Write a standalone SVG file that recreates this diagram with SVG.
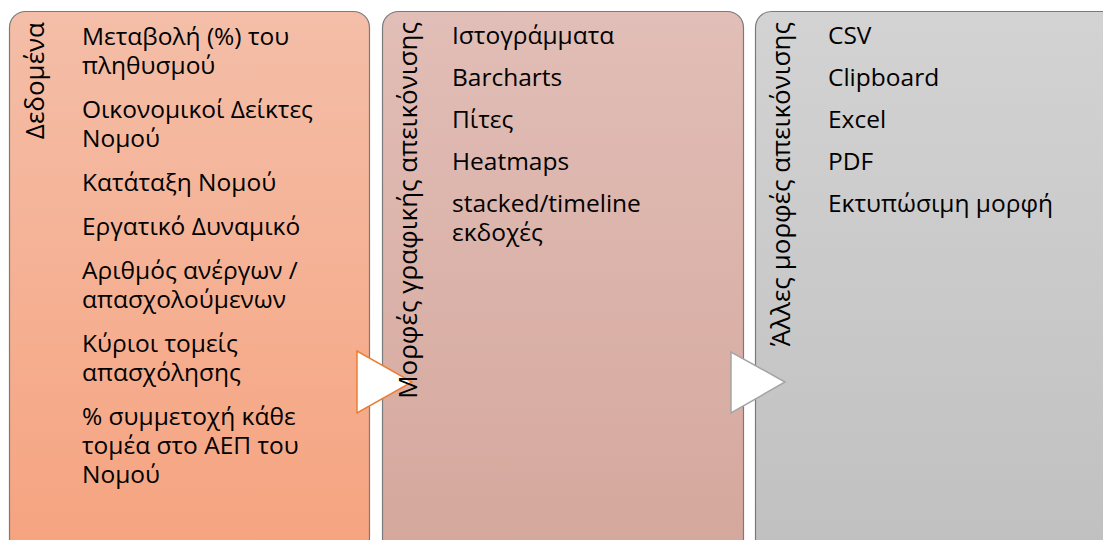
<svg xmlns="http://www.w3.org/2000/svg" width="1103" height="540" viewBox="0 0 1103 540">
  <defs>
    <linearGradient id="gradData" x1="0" y1="0" x2="0" y2="1">
      <stop offset="0" stop-color="#F4BEA8"/>
      <stop offset="1" stop-color="#F6A37F"/>
    </linearGradient>
    <linearGradient id="gradCharts" x1="0" y1="0" x2="0" y2="1">
      <stop offset="0" stop-color="#E1BEB7"/>
      <stop offset="1" stop-color="#D5A79C"/>
    </linearGradient>
    <linearGradient id="gradExport" x1="0" y1="0" x2="0" y2="1">
      <stop offset="0" stop-color="#D3D3D3"/>
      <stop offset="1" stop-color="#C0C0C0"/>
    </linearGradient>
    <style>
      .panel { stroke: #7a7a7a; stroke-width: 1.2; }
      .txt { font-family: "Open Sans", "Noto Sans", sans-serif; font-size: 24.5px; fill: #000; }
      .title { text-anchor: end; font-size: 26px; }
      .arrow { fill: #FFFFFF; stroke-width: 1.5; stroke-linejoin: miter; }
    </style>
  </defs>

  <rect width="1103" height="540" fill="#FFFFFF"/>

  <!-- panel shapes -->
  <g id="node-data">
    <rect class="panel" x="9.5" y="11.5" width="360" height="545" rx="16" fill="url(#gradData)"/>
  </g>
  <g id="node-charts">
    <rect class="panel" x="382.5" y="11.5" width="361" height="545" rx="16" fill="url(#gradCharts)"/>
  </g>
  <g id="node-export">
    <rect class="panel" x="755.5" y="11.5" width="380" height="545" rx="16" fill="url(#gradExport)"/>
  </g>

  <!-- process arrows between the panels -->
  <g id="connectors">
    <polygon class="arrow" points="357,351 357,413 412,382" stroke="#ED7D31"/>
    <polygon class="arrow" points="731,352 731,413 785,382" stroke="#A5A5A5"/>
  </g>

  <!-- panel labels; wrapped items are one text with a tspan per line -->
  <g id="node-data-text" class="txt">
    <text class="title" transform="translate(44,22) rotate(-90)">Δεδομένα</text>
    <text x="82" y="45">Μεταβολή (%) του<tspan x="82" dy="29">πληθυσμού</tspan></text>
    <text x="82" y="118">Οικονομικοί Δείκτες<tspan x="82" dy="29">Νομού</tspan></text>
    <text x="82" y="191">Κατάταξη Νομού</text>
    <text x="82" y="235">Εργατικό Δυναμικό</text>
    <text x="82" y="279">Αριθμός ανέργων /<tspan x="82" dy="29">απασχολούμενων</tspan></text>
    <text x="82" y="352">Κύριοι τομείς<tspan x="82" dy="29">απασχόλησης</tspan></text>
    <text x="82" y="425">% συμμετοχή κάθε<tspan x="82" dy="29">τομέα στο ΑΕΠ του</tspan><tspan x="82" dy="29">Νομού</tspan></text>
  </g>
  <g id="node-charts-text" class="txt">
    <text class="title" transform="translate(417,22) rotate(-90)">Μορφές γραφικής απεικόνισης</text>
    <text x="452" y="44">Ιστογράμματα</text>
    <text x="452" y="86">Barcharts</text>
    <text x="452" y="128">Πίτες</text>
    <text x="452" y="170">Heatmaps</text>
    <text x="452" y="212">stacked/timeline<tspan x="452" dy="29">εκδοχές</tspan></text>
  </g>
  <g id="node-export-text" class="txt">
    <text class="title" transform="translate(790,22) rotate(-90)">Άλλες μορφές απεικόνισης</text>
    <text x="828" y="44">CSV</text>
    <text x="828" y="86">Clipboard</text>
    <text x="828" y="128">Excel</text>
    <text x="828" y="170">PDF</text>
    <text x="828" y="212">Εκτυπώσιμη μορφή</text>
  </g>
</svg>
